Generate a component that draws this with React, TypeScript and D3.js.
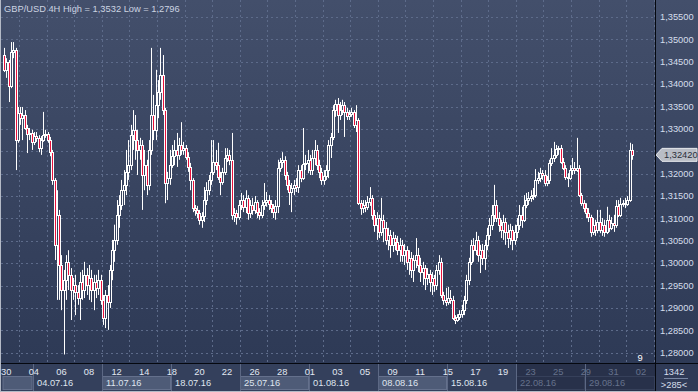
import React from "react";
import * as d3 from "d3";

// GBP/USD 4H candles, 29.06.16 .. 01.09.16 (open of each bar = previous close)
const firstOpen = 1.3465;

const closes = [
  1.3432, 1.3449, 1.3396, 1.3472, 1.3476, 1.3275, 1.3336, 1.3324, 1.3331, 1.3302,
  1.3289, 1.3291, 1.3271, 1.3284, 1.328, 1.3257, 1.3275, 1.3286, 1.3289, 1.3275,
  1.3248, 1.3186, 1.3041, 1.3108, 1.2996, 1.294, 1.2962, 1.3003, 1.2974, 1.294,
  1.2951, 1.2936, 1.2922, 1.2958, 1.294, 1.2974, 1.2951, 1.2967, 1.294, 1.2958,
  1.2945, 1.2962, 1.2918, 1.2878, 1.2929, 1.2913, 1.2985, 1.3029, 1.3052, 1.3108,
  1.313, 1.3163, 1.3175, 1.3204, 1.3219, 1.3286, 1.3298, 1.3275, 1.3253, 1.3264,
  1.3197, 1.3219, 1.3175, 1.3253, 1.3331, 1.3298, 1.3353, 1.3382, 1.342, 1.3342,
  1.3179, 1.319, 1.3219, 1.3239, 1.3253, 1.3242, 1.3264, 1.3253, 1.3257, 1.3237,
  1.3215, 1.3186, 1.3123, 1.3119, 1.3112, 1.3097, 1.3106, 1.3141, 1.3163, 1.3186,
  1.3204, 1.3226, 1.3219, 1.3193, 1.3181, 1.3204, 1.3235, 1.3242, 1.3231, 1.3108,
  1.3112, 1.3103, 1.313, 1.3141, 1.3126, 1.3146, 1.3112, 1.313, 1.3119, 1.3137,
  1.3114, 1.3108, 1.313, 1.3137, 1.3141, 1.3132, 1.3123, 1.3114, 1.3128, 1.3213,
  1.3226, 1.3231, 1.3197, 1.3175, 1.3159, 1.3168, 1.3175, 1.317, 1.3208, 1.319,
  1.3222, 1.3224, 1.3231, 1.3208, 1.3235, 1.3253, 1.3219, 1.3204, 1.3186, 1.3195,
  1.3208, 1.3264, 1.3282, 1.3342, 1.3356, 1.3331, 1.3342, 1.3353, 1.3338, 1.3329,
  1.3333, 1.3338, 1.3309, 1.332, 1.3134, 1.3123, 1.313, 1.3126, 1.3137, 1.3146,
  1.3108, 1.3086, 1.3101, 1.307, 1.3097, 1.3079, 1.3052, 1.3063, 1.3041, 1.3056,
  1.3047, 1.3029, 1.3041, 1.3018, 1.3029, 1.3003, 1.3012, 1.2985, 1.3007, 1.3018,
  1.2996, 1.298, 1.2989, 1.2967, 1.2976, 1.2958, 1.2967, 1.2951, 1.2985, 1.3003,
  1.2929, 1.2918, 1.2913, 1.2922, 1.2918, 1.2878, 1.2873, 1.288, 1.2886, 1.2895,
  1.2918, 1.2962, 1.3003, 1.3041, 1.3029, 1.3052, 1.3018, 1.3029, 1.3012, 1.3041,
  1.3063, 1.3086, 1.3108, 1.313, 1.3101, 1.3086, 1.3074, 1.3092, 1.307, 1.3056,
  1.3074, 1.3052, 1.307, 1.3086, 1.3108, 1.3097, 1.313, 1.3141, 1.3146, 1.315,
  1.3152, 1.3186, 1.319, 1.3201, 1.3197, 1.3179, 1.3186, 1.3224, 1.3235, 1.3242,
  1.3255, 1.3257, 1.3226, 1.3213, 1.3193, 1.319, 1.3208, 1.3213, 1.3208, 1.3213,
  1.3152, 1.3134, 1.3123, 1.3112, 1.3103, 1.307, 1.3086, 1.3074, 1.3092, 1.3074,
  1.3086, 1.307, 1.3097, 1.3079, 1.309, 1.3086, 1.3128, 1.3108, 1.3132, 1.3134,
  1.3132, 1.3141, 1.3253, 1.3242,
];

const highs = [
  1.3481, 1.3458, 1.3454, 1.3494, 1.3494, 1.3481, 1.3349, 1.3349, 1.3349, 1.3342,
  1.3309, 1.3302, 1.3298, 1.3293, 1.3293, 1.3286, 1.3284, 1.3338, 1.3298, 1.3293,
  1.3282, 1.3253, 1.319, 1.3163, 1.3119, 1.3018, 1.2985, 1.3018, 1.3029, 1.2989,
  1.2967, 1.2974, 1.2951, 1.298, 1.2985, 1.3003, 1.2989, 1.2996, 1.2985, 1.2974,
  1.2974, 1.2985, 1.2974, 1.2929, 1.294, 1.2951, 1.2996, 1.3052, 1.3086, 1.3141,
  1.3152, 1.3186, 1.3208, 1.3253, 1.3275, 1.3309, 1.3342, 1.3331, 1.3298, 1.328,
  1.3275, 1.3253, 1.3231, 1.3275, 1.3481, 1.3376, 1.3432, 1.3409, 1.3481, 1.3465,
  1.3347, 1.3204, 1.3253, 1.3264, 1.3275, 1.3291, 1.328, 1.3315, 1.3271, 1.3264,
  1.3248, 1.3224, 1.319, 1.313, 1.3128, 1.3119, 1.3114, 1.317, 1.3181, 1.3197,
  1.3275, 1.3275, 1.3253, 1.3269, 1.3204, 1.3213, 1.3257, 1.3257, 1.3253, 1.3291,
  1.3123, 1.3119, 1.3141, 1.3157, 1.3152, 1.3163, 1.3152, 1.3141, 1.3146, 1.315,
  1.3141, 1.3123, 1.3141, 1.3179, 1.3159, 1.3152, 1.3141, 1.3132, 1.3141, 1.3231,
  1.3235, 1.3248, 1.3239, 1.3204, 1.3186, 1.3179, 1.3186, 1.319, 1.3219, 1.3219,
  1.3302, 1.3242, 1.3253, 1.3242, 1.3253, 1.3275, 1.3264, 1.3231, 1.3213, 1.3208,
  1.3219, 1.3275, 1.3291, 1.3353, 1.3365, 1.3369, 1.336, 1.3365, 1.336, 1.3347,
  1.3342, 1.3347, 1.3342, 1.3353, 1.3324, 1.3141, 1.3141, 1.3141, 1.315, 1.317,
  1.3152, 1.3119, 1.3114, 1.3108, 1.3146, 1.3108, 1.3092, 1.3079, 1.3074, 1.307,
  1.3063, 1.3061, 1.3056, 1.3052, 1.3043, 1.3038, 1.3029, 1.3025, 1.3018, 1.3056,
  1.3034, 1.3012, 1.3003, 1.2996, 1.2989, 1.2985, 1.298, 1.2974, 1.2996, 1.3018,
  1.3012, 1.2936, 1.2945, 1.2947, 1.294, 1.2927, 1.2884, 1.2886, 1.2895, 1.2907,
  1.2927, 1.2974, 1.3012, 1.3052, 1.3056, 1.307, 1.3061, 1.3041, 1.3043, 1.3052,
  1.3079, 1.3101, 1.313, 1.3175, 1.3141, 1.3114, 1.3097, 1.3108, 1.3101, 1.3086,
  1.3088, 1.3083, 1.3086, 1.3101, 1.313, 1.3126, 1.3152, 1.3157, 1.3159, 1.3163,
  1.3168, 1.321, 1.3204, 1.3213, 1.3208, 1.3208, 1.3195, 1.3231, 1.3257, 1.3271,
  1.3264, 1.3262, 1.3264, 1.3235, 1.3219, 1.3201, 1.3219, 1.3235, 1.3226, 1.328,
  1.3219, 1.3157, 1.3141, 1.3134, 1.3123, 1.3108, 1.3101, 1.3097, 1.3119, 1.3119,
  1.3101, 1.3097, 1.3126, 1.3108, 1.3103, 1.3108, 1.3141, 1.3141, 1.3146, 1.3141,
  1.3146, 1.315, 1.3269, 1.3266,
];

const lows = [
  1.3427, 1.3414, 1.336, 1.3391, 1.3458, 1.3208, 1.3269, 1.3309, 1.3275, 1.3298,
  1.3246, 1.3275, 1.3253, 1.3264, 1.3271, 1.3248, 1.3242, 1.3271, 1.328, 1.3269,
  1.3239, 1.3175, 1.3007, 1.2918, 1.2918, 1.2895, 1.2796, 1.2918, 1.294, 1.2873,
  1.2918, 1.2884, 1.2907, 1.2873, 1.2918, 1.2922, 1.2929, 1.2918, 1.2913, 1.2895,
  1.2922, 1.2929, 1.2907, 1.2862, 1.2855, 1.2851, 1.29, 1.2962, 1.3003, 1.3041,
  1.3079, 1.3119, 1.313, 1.3152, 1.3186, 1.3208, 1.3253, 1.3231, 1.3197, 1.3231,
  1.3119, 1.3163, 1.3152, 1.3163, 1.3242, 1.3275, 1.3275, 1.3324, 1.3365, 1.3331,
  1.3134, 1.3141, 1.3175, 1.3213, 1.3219, 1.3215, 1.3231, 1.3242, 1.3242, 1.3231,
  1.3204, 1.3163, 1.3114, 1.3106, 1.3101, 1.3086, 1.3079, 1.3092, 1.313, 1.3152,
  1.3175, 1.3197, 1.3208, 1.3186, 1.3152, 1.3175, 1.3197, 1.3226, 1.3219, 1.3097,
  1.3092, 1.3086, 1.3097, 1.3119, 1.3114, 1.3112, 1.3097, 1.3101, 1.3108, 1.311,
  1.3101, 1.3097, 1.3101, 1.3119, 1.3126, 1.3119, 1.3112, 1.3101, 1.3097, 1.3112,
  1.3204, 1.3213, 1.3186, 1.3163, 1.313, 1.3114, 1.3152, 1.3159, 1.3157, 1.3181,
  1.3186, 1.3208, 1.3201, 1.3197, 1.3197, 1.3219, 1.3208, 1.319, 1.3175, 1.3175,
  1.3186, 1.319, 1.3235, 1.3275, 1.3327, 1.3291, 1.332, 1.3331, 1.3282, 1.332,
  1.332, 1.3327, 1.3302, 1.3293, 1.313, 1.3108, 1.3112, 1.3114, 1.3119, 1.3128,
  1.3097, 1.307, 1.3052, 1.3056, 1.3061, 1.3047, 1.3041, 1.3029, 1.3012, 1.3025,
  1.3029, 1.3018, 1.3003, 1.3003, 1.2996, 1.2985, 1.2974, 1.2967, 1.2958, 1.2989,
  1.298, 1.2958, 1.2951, 1.294, 1.2951, 1.2936, 1.2929, 1.2936, 1.294, 1.2974,
  1.2922, 1.2907, 1.2904, 1.2907, 1.2909, 1.2873, 1.2864, 1.2869, 1.2873, 1.2878,
  1.2884, 1.2909, 1.2951, 1.2996, 1.3003, 1.3018, 1.3003, 1.2978, 1.2996, 1.2985,
  1.3029, 1.3052, 1.3074, 1.3092, 1.3092, 1.307, 1.3056, 1.3052, 1.3041, 1.3034,
  1.3041, 1.3029, 1.3041, 1.3056, 1.3074, 1.3079, 1.3092, 1.3123, 1.313, 1.3137,
  1.3141, 1.3146, 1.3177, 1.3181, 1.3186, 1.3172, 1.3172, 1.3177, 1.3217, 1.3226,
  1.3235, 1.3242, 1.3222, 1.3208, 1.3186, 1.317, 1.3186, 1.3197, 1.3199, 1.3204,
  1.3148, 1.3128, 1.3114, 1.3101, 1.3092, 1.3059, 1.3063, 1.3061, 1.3067, 1.3067,
  1.3061, 1.3059, 1.3065, 1.307, 1.3074, 1.307, 1.3079, 1.3103, 1.3103, 1.3126,
  1.3123, 1.3128, 1.3137, 1.3231,
];

// time axis: trading days from 30.06 (index 0), 6 bars a day
const dayLabels = ["30", "04", "06", "08", "12", "14", "18", "20", "22", "26", "28", "01",
  "03", "05", "09", "11", "15", "17", "19", "23", "25", "29", "31", "02"];
const weekLabels = ["04.07.16", "11.07.16", "18.07.16", "25.07.16", "01.08.16",
  "08.08.16", "15.08.16", "22.08.16", "29.08.16"];
const barsPerDay = 6;
const firstDayBar = 1;
const lastPrice = 1.3242;
const titleText = "GBP/USD 4H High = 1,3532 Low = 1,2796";

const W = 698;
const H = 392;
const plotRight = 655;
const plotBottom = 363;
const font = "'Liberation Sans', Arial, sans-serif";
const red = "#e8113c";

const fmt = (v: number) => d3.format(".5f")(v).replace(".", ",");

export default function App() {
  const x = d3.scaleLinear().domain([0, closes.length - 1]).range([4, 631.9]);
  const y = d3.scaleLinear().domain([1.28, 1.355]).range([352.7, 17]);
  const dayX = (d: number) => x(firstDayBar + barsPerDay * d) - 1.1;

  const candles = closes.map((c, i) => ({
    o: i === 0 ? firstOpen : closes[i - 1],
    c,
    h: highs[i],
    l: lows[i],
  }));

  const priceTicks = y.ticks(15);
  const gridDays = d3.range(1, dayLabels.length * 2, 2);
  const weekX = weekLabels.map((_, k) => Math.round(dayX(2 + 5 * k)));
  const dimFrom = weekX[7];

  return (
    <div style={{ position: "absolute", left: 0, top: 0 }}>
      <svg width={W} height={H} style={{ display: "block" }} fontFamily={font}>
        <defs>
          <linearGradient id="bg" gradientUnits="userSpaceOnUse" x1="0" y1="0" x2="0" y2={H}>
            <stop offset="0" stopColor="#434f6b" />
            <stop offset="1" stopColor="#2c3854" />
          </linearGradient>
        </defs>
        <rect x={0} y={0} width={W} height={H} fill="url(#bg)" />

        {/* grid */}
        <g stroke="#5d6b8a" strokeDasharray="2,3" strokeWidth={1}>
          {priceTicks.map((t) => (
            <line key={t} x1={1} x2={plotRight} y1={Math.round(y(t)) + 0.5} y2={Math.round(y(t)) + 0.5} />
          ))}
          {gridDays.map((d) => (
            <line key={d} x1={Math.round(dayX(d)) + 0.5} x2={Math.round(dayX(d)) + 0.5} y1={0} y2={plotBottom} />
          ))}
        </g>

        {/* candles */}
        <g>
          {candles.map((k, i) => {
            const cx = Math.round(x(i));
            const top = Math.round(y(Math.max(k.o, k.c)));
            const bot = Math.round(y(Math.min(k.o, k.c)));
            const hi = y(Math.max(k.h, k.o, k.c));
            const lo = y(Math.min(k.l, k.o, k.c));
            return (
              <g key={i}>
                <line x1={cx + 0.5} x2={cx + 0.5} y1={hi} y2={lo} stroke="#ffffff" strokeWidth={1} />
                <rect
                  x={cx - 0.5}
                  y={top + 0.5}
                  width={2}
                  height={Math.max(bot - top, 1)}
                  fill={k.c < k.o ? red : "url(#bg)"}
                  stroke="#ffffff"
                  strokeWidth={1}
                />
              </g>
            );
          })}
        </g>

        <text x={4} y={12} fontSize={9.3} fill="#ccd4e2">{titleText}</text>
        <text x={640} y={361} fontSize={9.3} fill="#ffffff" textAnchor="middle">9</text>

        {/* right price axis */}
        {priceTicks.map((t) => (
          <text key={t} x={660} y={y(t)} dy="0.35em" fontSize={9.3} fill="#d6deec">{fmt(t)}</text>
        ))}
        <path
          d={`M${plotRight + 1},${y(lastPrice)} L${plotRight + 7},${y(lastPrice) - 6.5} H697 V${y(lastPrice) + 6.5} H${plotRight + 7} Z`}
          fill="#b9bdc6"
          stroke="#e6e8ec"
          strokeWidth={1}
        />
        <text x={664} y={y(lastPrice)} dy="0.35em" fontSize={9.3} fill="#2a2f3a">{fmt(lastPrice)}</text>

        {/* bottom time axis */}
        <rect x={0} y={plotBottom} width={plotRight} height={H - plotBottom} fill="#34405c" />
        <rect x={dimFrom} y={plotBottom} width={plotRight - dimFrom} height={H - plotBottom} fill="#28314a" />
        <rect x={3} y={376.5} width={weekX[0] - 4} height={13} fill="#4e5b77" stroke="#64708c" />
        {weekLabels.map((w, k) => {
          const x0 = weekX[k];
          const x1 = k < weekLabels.length - 1 ? weekX[k + 1] : plotRight;
          const dim = x0 >= dimFrom;
          return (
            <g key={w}>
              {k % 2 === 1 && !dim && (
                <rect x={x0 + 0.5} y={376.5} width={x1 - x0 - 1} height={13} fill="#4e5b77" stroke="#64708c" />
              )}
              {dim && (
                <rect x={x0 + 0.5} y={376.5} width={x1 - x0 - 1} height={13} fill="none" stroke="#36405a" />
              )}
              <line x1={x0 + 0.5} x2={x0 + 0.5} y1={plotBottom} y2={H} stroke="#5c6884" />
              <text x={x0 + 4} y={383} dy="0.35em" fontSize={9.3} fill={dim ? "#66728c" : "#dfe5ef"}>{w}</text>
            </g>
          );
        })}
        {dayLabels.map((d, k) => {
          const dx = dayX(2 * k);
          return (
            <text key={k} x={dx + 1} y={372} dy="0.35em" fontSize={9.3} textAnchor="middle"
              fill={dx >= dimFrom - 2 ? "#66728c" : "#e2e8f2"}>{d}</text>
          );
        })}

        {/* bottom right counters */}
        <rect x={plotRight + 1} y={plotBottom + 1} width={W - plotRight - 1} height={H - plotBottom - 1} fill="#2f3a56" />
        <text x={674} y={372} dy="0.35em" fontSize={9.3} textAnchor="middle" fill="#d6deec">1342</text>
        <line x1={664} x2={688} y1={378.5} y2={378.5} stroke="#7886a2" />
        <text x={674} y={385} dy="0.35em" fontSize={9.3} textAnchor="middle" fill="#d6deec">{">285<"}</text>

        {/* separators and frame */}
        <line x1={plotRight + 0.5} x2={plotRight + 0.5} y1={0} y2={H} stroke="#05080f" />
        <line x1={0} x2={W} y1={plotBottom + 0.5} y2={plotBottom + 0.5} stroke="#05080f" />
        <line x1={0.5} x2={0.5} y1={0} y2={H} stroke="#b4bac6" />
        <line x1={0} x2={W} y1={H - 0.5} y2={H - 0.5} stroke="#b4bac6" />
      </svg>
    </div>
  );
}
